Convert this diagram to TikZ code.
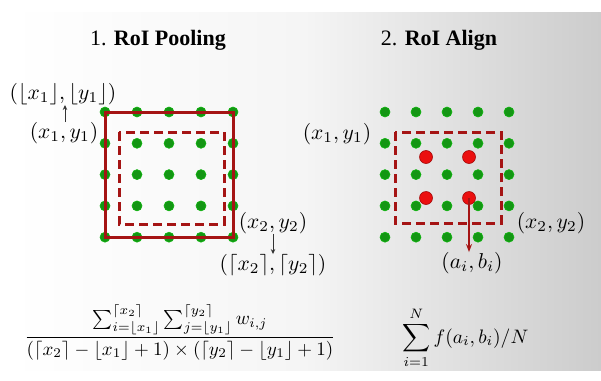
\documentclass[tikz,border=0pt]{standalone}
\usepackage{graphicx}
\usepackage{fontspec}
\newfontfamily\ttlfont{Liberation Serif}
\usetikzlibrary{arrows.meta,calc}
\definecolor{dotgreen}{RGB}{20,150,20}
\definecolor{boxred}{RGB}{165,20,20}
\definecolor{ptred}{RGB}{235,15,15}
\newcommand{\mylab}[1]{\scalebox{2.15}{$#1$}}
\begin{document}
\begin{tikzpicture}[x=1pt,y=-1pt,
  lbl/.style={inner sep=0pt},
  ttl/.style={inner sep=0pt,font=\ttlfont\fontsize{22}{26}\selectfont},
  gdot/.style={circle,fill=dotgreen,draw=dotgreen!70!green,line width=0.6pt,minimum size=10pt,inner sep=0pt},
  rdot/.style={circle,fill=ptred,draw=ptred!70!black,line width=0.6pt,minimum size=13pt,inner sep=0pt},
  solidbox/.style={draw=boxred,line width=3pt},
  dashbox/.style={draw=boxred,line width=3pt,dash pattern=on 9pt off 5pt},
  lblarrow/.style={-{Stealth[length=5pt,width=4.5pt]},line width=0.9pt,draw=black!80},
  redarrow/.style={-{Stealth[length=8pt,width=6pt]},line width=1.3pt,draw=boxred}]
\fill[white] (0,0) rectangle (601,380);
\shade[left color=white,right color=black!20,middle color=white!96!black] (10,12) rectangle (601,370);
\useasboundingbox (0,0) rectangle (601,380);
% titles
\node[ttl,anchor=base] (t1) at (158,45) {1. \textbf{RoI Pooling}};
\node[ttl,anchor=base] (t2) at (439,45) {2. \textbf{RoI Align}};
% left grid
\foreach \i in {0,...,4}{
  \foreach \j in {0,...,4}{
    \node[gdot] (L-\i-\j) at ({105+32*\i},{112+31.3*\j}) {};
  }}
\draw[solidbox] (L-0-0.center) rectangle (L-4-4.center);
\coordinate (ld1) at (119,132);
\coordinate (ld2) at (224,224);
\draw[dashbox] (ld1) rectangle (ld2);
% left labels
\node[lbl] (fl) at (63,94) {\mylab{(\lfloor x_1\rfloor,\lfloor y_1\rfloor)}};
\node[lbl] (p1) at (64,133) {\mylab{(x_1,y_1)}};
\coordinate (a1) at (65,0);
\draw[lblarrow] (a1 |- p1.north) -- (a1 |- fl.south);
\node[lbl] (p2) at (273,223) {\mylab{(x_2,y_2)}};
\node[lbl] (cl) at (273,265) {\mylab{(\lceil x_2\rceil,\lceil y_2\rceil)}};
\coordinate (a2) at (273,0);
\draw[lblarrow] (a2 |- p2.south) -- (a2 |- cl.north);
% right grid
\foreach \i in {0,...,4}{
  \foreach \j in {0,...,4}{
    \node[gdot] (R-\i-\j) at ({385+31*\i},{112+31.3*\j}) {};
  }}
\coordinate (rd1) at (395,132);
\coordinate (rd2) at (501,223);
\draw[dashbox] (rd1) rectangle (rd2);
\node[rdot] (s1) at (426,157) {};
\node[rdot] (s2) at (469,157) {};
\node[rdot] (s3) at (426,198) {};
\node[rdot] (s4) at (469,198) {};
\node[lbl] (q1) at (337,134) {\mylab{(x_1,y_1)}};
\node[lbl] (q2) at (551,223) {\mylab{(x_2,y_2)}};
\node[lbl] (ab) at (472,263) {\mylab{(a_i,b_i)}};
\draw[redarrow] (s4.center) -- (s4.center |- ab.north);
% formulas
\node[lbl,anchor=base] (f1) at (180,342) {\scalebox{1.9}{$\displaystyle\frac{\sum_{i=\lfloor x_1\rfloor}^{\lceil x_2\rceil}\sum_{j=\lfloor y_1\rfloor}^{\lceil y_2\rceil} w_{i,j}}{(\lceil x_2\rceil-\lfloor x_1\rfloor+1)\times(\lceil y_2\rceil-\lfloor y_1\rfloor+1)}$}};
\node[lbl,anchor=base west] (f2) at (402,343) {\scalebox{1.95}{$\displaystyle\sum_{i=1}^{N} f(a_i,b_i)/N$}};
\end{tikzpicture}
\end{document}
